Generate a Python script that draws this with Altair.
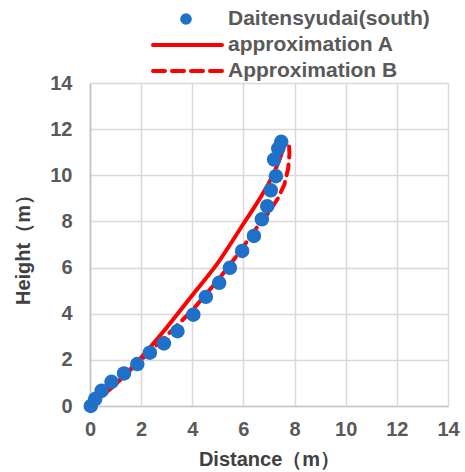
import altair as alt
import pandas as pd

# Observed data: Daitensyudai(south)
obs_x = [0.03, 0.2, 0.45, 0.84, 1.33, 1.85, 2.34, 2.89, 3.42, 4.04, 4.53, 5.05, 5.47, 5.95, 6.41, 6.72, 6.93, 7.07, 7.27, 7.2, 7.36, 7.48]
obs_y = [0.0, 0.3, 0.66, 1.05, 1.41, 1.82, 2.31, 2.71, 3.24, 3.96, 4.73, 5.34, 5.99, 6.72, 7.37, 8.09, 8.66, 9.35, 9.96, 10.68, 11.16, 11.45]

# Approximation A (solid)
a_x = [0.0, 1.0, 2.0, 3.0, 4.0, 5.0, 6.0, 6.7, 7.15, 7.45, 7.6]
a_y = [0.0, 0.95, 2.1, 3.4, 4.8, 6.2, 7.9, 9.1, 10.0, 10.8, 11.3]

# Approximation B (dashed)
b_x = [0.0, 1.0, 2.0, 3.0, 4.0, 5.0, 5.8, 6.5, 7.0, 7.35, 7.6, 7.75, 7.8, 7.78]
b_y = [0.0, 0.95, 2.0, 3.05, 4.15, 5.45, 6.6, 7.7, 8.4, 9.0, 9.6, 10.3, 10.9, 11.4]

series_names = ["Daitensyudai(south)", "approximation A", "Approximation B"]
ticks = [0, 2, 4, 6, 8, 10, 12, 14]

obs = pd.DataFrame({"x": obs_x, "y": obs_y})
dfa = pd.DataFrame({"x": a_x, "y": a_y, "i": range(len(a_x))})
dfb = pd.DataFrame({"x": b_x, "y": b_y, "i": range(len(b_x))})

W, H = 358, 323
FONT = "Liberation Sans"

xs = alt.Scale(domain=[0, 14], nice=False, zero=False)
ys = alt.Scale(domain=[0, 14], nice=False, zero=False)

xenc = alt.X("x:Q", scale=xs, axis=alt.Axis(
    values=ticks, title="Distance（m）", grid=True, ticks=False,
    labelFont=FONT, labelFontSize=20, labelFontWeight="bold", labelColor="#595959",
    labelPadding=13, titleFont=FONT, titleFontSize=20, titleFontWeight="bold",
    titleColor="#404040", titlePadding=10, domainColor="#c8c8c8", domainWidth=1.5,
    gridColor="#d9d9d9", gridWidth=1.5, labelFlush=False))
yenc = alt.Y("y:Q", scale=ys, axis=alt.Axis(
    values=ticks, title="Height（m）", grid=True, ticks=False,
    labelFont=FONT, labelFontSize=20, labelFontWeight="bold", labelColor="#595959",
    labelPadding=18, titleFont=FONT, titleFontSize=20, titleFontWeight="bold",
    titleColor="#404040", titlePadding=16, domainColor="#c0c0c0", domainWidth=1.5,
    gridColor="#d9d9d9", gridWidth=1.5, labelFlush=False))

line_a = alt.Chart(dfa).mark_line(color="#ff0000", strokeWidth=4, interpolate="monotone").encode(
    x=xenc, y=yenc, order="i:Q")
line_b = alt.Chart(dfb).mark_line(color="#ff0000", strokeWidth=4, strokeDash=[11, 7],
                                  strokeCap="round").encode(x=xenc, y=yenc, order="i:Q")
pts = alt.Chart(obs).mark_circle(color="#1f70c8", opacity=1, size=210).encode(x=xenc, y=yenc)

# Legend
leg = pd.DataFrame({"name": series_names, "ly": [-64, -38, -12]})
leg_text = alt.Chart(leg).mark_text(align="left", baseline="middle", font=FONT, fontSize=21,
                                    fontWeight="bold", color="#595959").encode(
    x=alt.value(138), y=alt.Y("ly:Q", scale=None), text="name:N")
leg_dot = alt.Chart(leg.iloc[[0]]).mark_circle(color="#1f70c8", opacity=1, size=135).encode(
    x=alt.value(96), y=alt.Y("ly:Q", scale=None))
leg_a = alt.Chart(leg.iloc[[1]]).mark_rule(color="#ff0000", strokeWidth=4, strokeCap="round").encode(
    x=alt.value(63), x2=alt.value(132), y=alt.Y("ly:Q", scale=None))
leg_b = alt.Chart(leg.iloc[[2]]).mark_rule(color="#ff0000", strokeWidth=4, strokeDash=[12, 7],
                                          strokeCap="round").encode(
    x=alt.value(63), x2=alt.value(132), y=alt.Y("ly:Q", scale=None))

chart = alt.layer(line_a, line_b, pts, leg_text, leg_dot, leg_a, leg_b).properties(
    width=W, height=H,
    autosize=alt.AutoSizeParams(type="none"),
    padding={"left": 90, "top": 83, "right": 17, "bottom": 66},
).configure_view(stroke=None).configure(background="white")

chart.save("out.html", embed_options={"renderer": "svg", "actions": False})
